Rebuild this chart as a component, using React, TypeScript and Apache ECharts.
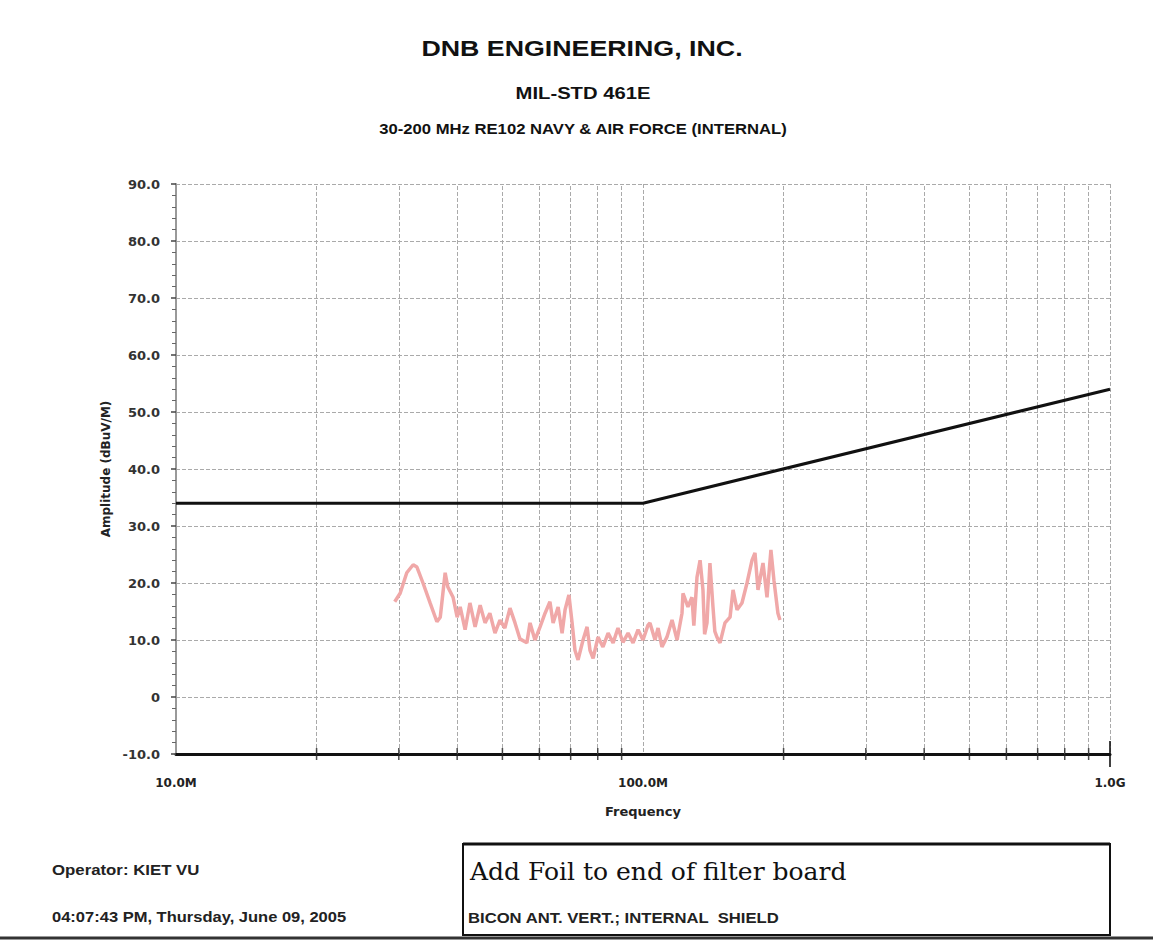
import React, { useEffect, useRef } from "react";
import * as echarts from "echarts";

// Limit line (MHz, dBuV/m)
const limitFreq = [10, 100, 1000];
const limitAmp = [34, 34, 54];

// Measured emission trace (MHz, dBuV/m)
const traceFreq = [
  29.4, 30.2, 31.2, 32.2, 32.8, 33.8, 35.0, 36.2, 36.8, 37.7, 38.2, 39.2, 40.0, 40.6, 41.6, 42.6,
  43.7, 44.8, 45.9, 47.0, 48.2, 49.4, 50.6, 51.9, 53.2, 54.5, 56.4, 57.3, 58.7, 60.2, 61.7, 63.2,
  64.2, 65.8, 67.1, 68.1, 69.4, 70.5, 71.5, 72.6, 74.4, 75.9, 77.0, 78.2, 80.1, 82.1, 84.2, 86.3,
  88.4, 90.6, 92.9, 95.2, 97.6, 100.0, 102.5, 103.5, 106.1, 107.7, 109.8, 112.5, 115.4, 118.3,
  121.2, 121.8, 124.8, 127.3, 128.5, 130.5, 132.5, 134.4, 135.5, 137.1, 139.1, 141.2, 142.5,
  144.0, 146.2, 149.8, 153.6, 155.9, 159.0, 162.9, 167.0, 171.2, 173.7, 176.3, 180.7, 184.3,
  187.9, 190.7, 194.5, 196.5,
];
const traceAmp = [
  16.7, 18.2, 21.8, 23.2, 22.8, 20.0, 16.5, 13.2, 14.0, 21.8, 19.3, 17.5, 14.0, 15.8, 11.8, 16.5,
  12.3, 16.1, 13.0, 14.7, 11.2, 13.5, 12.1, 15.6, 13.0, 10.2, 9.5, 13.0, 10.0, 12.3, 14.7, 16.7,
  13.0, 15.8, 11.2, 15.3, 17.9, 13.0, 8.2, 6.5, 10.0, 12.3, 8.2, 6.8, 10.5, 8.8, 11.2, 9.5,
  12.1, 9.6, 11.2, 9.5, 11.8, 10.0, 12.6, 13.0, 10.0, 12.1, 8.8, 10.5, 13.5, 10.0,
  14.7, 18.2, 15.8, 17.5, 12.5, 21.0, 24.0, 18.8, 11.0, 13.0, 23.5, 15.8, 11.5,
  10.5, 9.5, 13.0, 14.0, 18.8, 15.3, 16.5, 20.0, 24.0, 25.3, 18.8, 23.5, 17.5,
  25.8, 20.5, 14.7, 13.5,
];

// Minor decade positions (MHz) for vertical grid and ticks
const minorFreq = [20, 30, 40, 50, 60, 70, 80, 90, 200, 300, 400, 500, 600, 700, 800, 900];

const yTickLabel = (v: number) => (v === 0 ? "0" : v.toFixed(1));
const xTickLabel = (v: number) => (v >= 1000 ? (v / 1000).toFixed(1) + "G" : v.toFixed(1) + "M");

export default function App() {
  const ref = useRef<HTMLDivElement>(null);
  useEffect(() => {
    if (!ref.current) return;
    const chart = echarts.init(ref.current, null, { renderer: "svg" });
    const font = "'Liberation Sans', Arial, sans-serif";
    const wide = "'DejaVu Sans', sans-serif";
    const sx = 1.19;
    chart.setOption({
      animation: false,
      backgroundColor: "#ffffff",
      grid: { left: 176, right: 43, top: 184, bottom: 189, containLabel: false },
      xAxis: {
        type: "log",
        logBase: 10,
        min: 10,
        max: 1000,
        name: "Frequency",
        nameLocation: "middle",
        nameGap: 51,
        nameTextStyle: { fontFamily: wide, fontSize: 13, fontWeight: "bold", color: "#222" },
        axisLine: { onZero: false, lineStyle: { color: "#111", width: 3 } },
        axisTick: { show: false },
        axisLabel: {
          formatter: xTickLabel,
          margin: 23,
          fontFamily: wide,
          fontSize: 12,
          fontWeight: "bold",
          color: "#222",
        },
        splitLine: { show: true, lineStyle: { color: "#aaa", type: [4, 2], width: 1 } },
      },
      yAxis: {
        type: "value",
        min: -10,
        max: 90,
        interval: 10,
        axisLine: { show: true, lineStyle: { color: "#999", width: 2 } },
        axisTick: { show: true, length: 5, inside: false, lineStyle: { color: "#444", width: 1.5 } },
        minorTick: { show: true, splitNumber: 5, length: 4, lineStyle: { color: "#666" } },
        axisLabel: {
          formatter: yTickLabel,
          margin: 16,
          fontFamily: wide,
          fontSize: 13,
          fontWeight: "bold",
          color: "#333",
        },
        splitLine: { show: true, lineStyle: { color: "#aaa", type: [4, 2], width: 1 } },
      },
      series: [
        {
          type: "line",
          name: "limit",
          data: limitFreq.map((f, i) => [f, limitAmp[i]]),
          showSymbol: false,
          lineStyle: { color: "#111", width: 3 },
          z: 5,
          markLine: {
            silent: true,
            symbol: "none",
            label: { show: false },
            lineStyle: { color: "#aaa", type: [4, 2], width: 1 },
            data: minorFreq.map((f) => ({ xAxis: f })),
            z: 1,
          },
        },
        {
          type: "line",
          name: "trace",
          data: traceFreq.map((f, i) => [f, traceAmp[i]]),
          showSymbol: false,
          lineStyle: { color: "#f0a8a8", width: 3.5 },
          z: 4,
        },
        {
          type: "scatter",
          name: "ticks",
          data: minorFreq.map((f) => [f, -10]),
          symbol: "rect",
          symbolSize: [1.5, 12],
          itemStyle: { color: "#222" },
          silent: true,
          z: 6,
        },
        {
          type: "scatter",
          name: "endtick",
          data: [[1000, -10]],
          symbol: "rect",
          symbolSize: [2, 26],
          itemStyle: { color: "#111" },
          silent: true,
          z: 6,
        },
      ],
      graphic: [
        {
          type: "text",
          x: 582,
          y: 48,
          scaleX: sx,
          style: {
            text: "DNB ENGINEERING, INC.",
            fontFamily: font,
            fontSize: 22.5,
            fontWeight: "bold",
            fill: "#111",
            align: "center",
            verticalAlign: "middle",
          },
        },
        {
          type: "text",
          x: 583,
          y: 93,
          scaleX: sx,
          style: {
            text: "MIL-STD 461E",
            fontFamily: font,
            fontSize: 17,
            fontWeight: "bold",
            fill: "#111",
            align: "center",
            verticalAlign: "middle",
          },
        },
        {
          type: "text",
          x: 583,
          y: 129,
          scaleX: sx,
          style: {
            text: "30-200 MHz RE102 NAVY & AIR FORCE (INTERNAL)",
            fontFamily: font,
            fontSize: 14,
            fontWeight: "bold",
            fill: "#111",
            align: "center",
            verticalAlign: "middle",
          },
        },
        {
          type: "text",
          x: 106,
          y: 469,
          rotation: Math.PI / 2,
          style: {
            text: "Amplitude (dBuV/M)",
            fontFamily: wide,
            fontSize: 12,
            fontWeight: "bold",
            fill: "#222",
            align: "center",
            verticalAlign: "middle",
          },
        },
        {
          type: "text",
          x: 52,
          y: 870,
          scaleX: 1.2,
          style: {
            text: "Operator: KIET VU",
            fontFamily: font,
            fontSize: 14,
            fontWeight: "bold",
            fill: "#222",
            align: "left",
            verticalAlign: "middle",
          },
        },
        {
          type: "text",
          x: 52,
          y: 917,
          scaleX: 1.18,
          style: {
            text: "04:07:43 PM, Thursday, June 09, 2005",
            fontFamily: font,
            fontSize: 14,
            fontWeight: "bold",
            fill: "#222",
            align: "left",
            verticalAlign: "middle",
          },
        },
        {
          type: "rect",
          shape: { x: 463, y: 844, width: 647, height: 91 },
          style: { fill: "none", stroke: "#111", lineWidth: 2 },
        },
        {
          type: "line",
          shape: { x1: 463, y1: 844, x2: 1110, y2: 844 },
          style: { stroke: "#111", lineWidth: 3 },
        },
        {
          type: "line",
          shape: { x1: 0, y1: 938, x2: 1153, y2: 938 },
          style: { stroke: "#333", lineWidth: 3 },
        },
        {
          type: "text",
          x: 470,
          y: 871,
          style: {
            text: "Add Foil to end of filter board",
            fontFamily: "'DejaVu Serif', serif",
            fontSize: 25,
            fill: "#111",
            align: "left",
            verticalAlign: "middle",
          },
        },
        {
          type: "text",
          x: 468,
          y: 918,
          scaleX: 1.19,
          style: {
            text: "BICON ANT. VERT.; INTERNAL  SHIELD",
            fontFamily: font,
            fontSize: 14,
            fontWeight: "bold",
            fill: "#222",
            align: "left",
            verticalAlign: "middle",
          },
        },
      ],
    });
    return () => chart.dispose();
  }, []);
  return (
    <div
      ref={ref}
      style={{ position: "absolute", left: 0, top: 0, width: 1153, height: 943 }}
    />
  );
}
